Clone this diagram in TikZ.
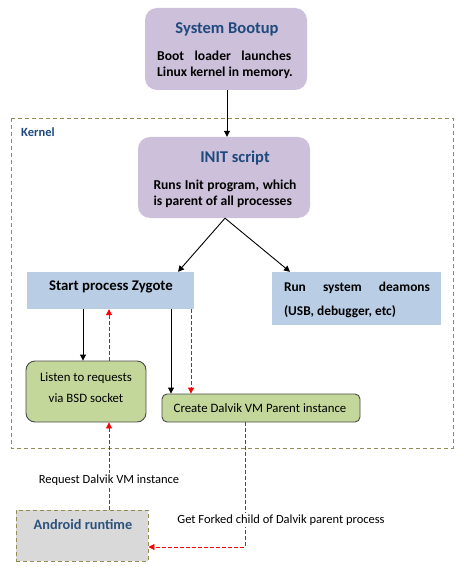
\documentclass[tikz,border=0pt]{standalone}
\usepackage{fontspec}
\setmainfont{Carlito}
\usetikzlibrary{arrows.meta,calc}
\definecolor{lav}{HTML}{CCC0DA}
\definecolor{zblue}{HTML}{B9CDE5}
\definecolor{lgreen}{HTML}{C4D79B}
\definecolor{lgray}{HTML}{D9D9D9}
\definecolor{olive}{HTML}{948A54}
\definecolor{ttl}{HTML}{1F497D}
\definecolor{bord}{HTML}{4A4A4A}
\tikzset{
  x=1pt,y=-1pt,
  purplebox/.style={fill=lav,draw=none,rounded corners=12pt,inner sep=0pt},
  bluebox/.style={fill=zblue,draw=none,inner sep=0pt},
  greenbox/.style={fill=lgreen,draw=bord,line width=0.9pt,inner sep=0pt},
  ttltext/.style={font=\bfseries\fontsize{16.5}{18}\selectfont,text=ttl,inner sep=0pt},
  bodytext/.style={font=\bfseries\fontsize{13.6}{15.5}\selectfont,inner sep=0pt,align=left},
  regtext/.style={font=\fontsize{12.8}{21}\selectfont,inner sep=0pt,align=center},
  blk/.style={-{Triangle[width=6pt,length=6pt]},line width=0.9pt,black},
  reddash/.style={-{Triangle[width=6pt,length=6pt]},line width=0.9pt,red,dash pattern=on 3.5pt off 2.5pt},
  lbl/.style={font=\fontsize{12.5}{14}\selectfont,fill=white,text=black,inner sep=2pt}
}
\begin{document}
\begin{tikzpicture}
\useasboundingbox (0,0) rectangle (463,569);
% kernel frame
\draw[olive,line width=0.9pt,dash pattern=on 4pt off 3pt] (11,118) rectangle (453,448);
\node[font=\bfseries\fontsize{12.5}{14}\selectfont,text=ttl,anchor=west,inner sep=0pt] (kern) at (21,132) {Kernel};
% System bootup
\node[purplebox,minimum width=162pt,minimum height=82pt] (boot) at (226,49) {};
\node[ttltext] (boott) at (227,29) {System Bootup};
\node[bodytext] (bootb) at (225,65) {\makebox[134pt][s]{Boot loader launches}\\Linux kernel in memory.};
% INIT
\node[purplebox,minimum width=172pt,minimum height=81pt] (init) at (224,177.5) {};
\node[ttltext] (initt) at (235,158) {INIT script};
\node[bodytext] (initb) at (225,194) {\makebox[143pt][s]{Runs Init program, which}\\is parent of all processes};
% Zygote
\node[bluebox,minimum width=167pt,minimum height=37pt] (zyg) at (110.5,290.5) {};
\node[font=\bfseries\fontsize{14.8}{16}\selectfont,inner sep=0pt] (zygt) at (111,287) {Start process Zygote};
% Deamons
\node[bluebox,minimum width=169pt,minimum height=53pt] (dea) at (356.5,298.5) {};
\node[bodytext,font=\bfseries\fontsize{13.4}{24}\selectfont] (deat) at (357,300) {\makebox[146pt][s]{Run system deamons}\\(USB, debugger, etc)};
% Listen
\node[greenbox,rounded corners=9pt,minimum width=120pt,minimum height=61pt] (lis) at (86,391.5) {};
\node[regtext] (list) at (86,388) {Listen to requests\\via BSD socket};
% Create
\node[greenbox,rounded corners=5pt,minimum width=198pt,minimum height=28pt] (cre) at (261,408) {};
\node[regtext] (cret) at (260,408) {Create Dalvik VM Parent instance};
% Android runtime
\node[fill=lgray,draw=olive,line width=0.9pt,dash pattern=on 4pt off 3pt,minimum width=132pt,minimum height=51pt,inner sep=0pt] (andr) at (82,535.5) {};
\node[font=\bfseries\fontsize{14.3}{17}\selectfont,text=ttl!85!gray,inner sep=0pt] (andrt) at (83,525) {Android runtime};
% connectors
\draw[blk] (boot.south -| 227,0) -- (init.north -| 227,0);
\draw[blk] (init.south -| 225,0) -- (zyg.north -| 178,0);
\draw[blk] (init.south -| 225,0) -- (dea.north -| 290,0);
\draw[blk] (zyg.south -| 83,0) -- (lis.north -| 83,0);
\draw[reddash] (lis.north -| 109,0) -- (zyg.south -| 109,0);
\draw[blk] (zyg.south -| 171,0) -- (cre.north -| 171,0);
\draw[reddash] (zyg.south -| 191,0) -- (cre.north -| 191,0);
\draw[reddash] (andr.north -| 109,0) -- node[lbl,pos=0.34] (req) {Request Dalvik VM instance} (lis.south -| 109,0);
\coordinate (corner) at (245,547);
\draw[reddash] (cre.south -| 245,0) -- (corner) -- (andr.east |- corner);
\node[lbl] (fork) at (281,520) {Get Forked child of Dalvik parent process};
\end{tikzpicture}
\end{document}
